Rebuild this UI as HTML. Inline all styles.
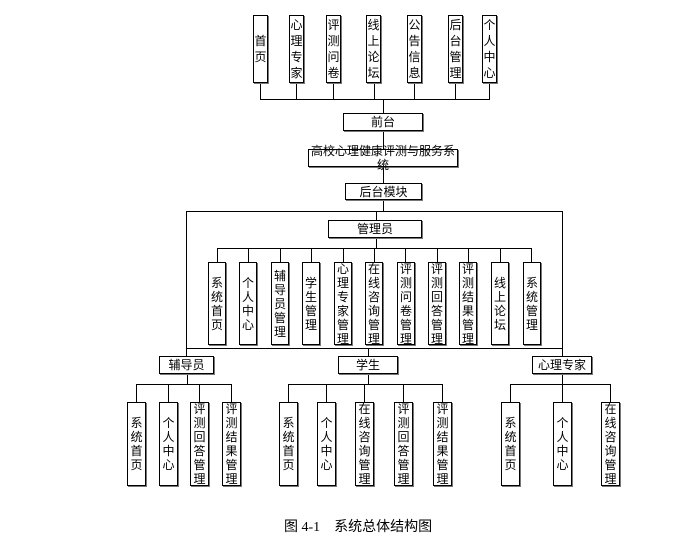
<!DOCTYPE html>
<html><head><meta charset="utf-8"><style>
body{margin:0;background:#fff;}
#c{position:relative;width:697px;height:549px;overflow:hidden;font-family:"Liberation Sans","Noto Sans CJK SC","WenQuanYi Zen Hei",sans-serif;color:#000;}
.b{position:absolute;box-sizing:border-box;border:1px solid #000;box-shadow:1px 1px 0 #777;background:#fff;display:flex;align-items:center;justify-content:center;text-align:center;font-size:12px;line-height:14px;}
.v{line-height:14px;}
.t{line-height:16px;}
.h{position:absolute;height:0;border-top:1px solid #000;}
.l{position:absolute;width:0;border-left:1px solid #000;}
</style></head><body><div id="c">
<!-- top lines -->
<div class="l" style="left:260px;top:83px;height:16px"></div>
<div class="l" style="left:296px;top:83px;height:16px"></div>
<div class="l" style="left:333px;top:83px;height:16px"></div>
<div class="l" style="left:374px;top:83px;height:16px"></div>
<div class="l" style="left:414px;top:83px;height:16px"></div>
<div class="l" style="left:455px;top:83px;height:16px"></div>
<div class="l" style="left:489px;top:83px;height:16px"></div>
<div class="h" style="left:260px;top:99px;width:230px"></div>
<div class="l" style="left:383px;top:99px;height:84px"></div>
<div class="l" style="left:383px;top:199px;height:12px"></div>
<div class="h" style="left:186px;top:211px;width:377px"></div>
<div class="l" style="left:186px;top:211px;height:145px"></div>
<div class="l" style="left:562px;top:211px;height:145px"></div>
<div class="l" style="left:376px;top:211px;height:10px"></div>
<div class="l" style="left:376px;top:237px;height:11px"></div>
<div class="h" style="left:217px;top:248px;width:315px"></div>
<div class="l" style="left:217px;top:248px;height:14px"></div>
<div class="l" style="left:248px;top:248px;height:14px"></div>
<div class="l" style="left:280px;top:248px;height:14px"></div>
<div class="l" style="left:311px;top:248px;height:14px"></div>
<div class="l" style="left:343px;top:248px;height:14px"></div>
<div class="l" style="left:374px;top:248px;height:14px"></div>
<div class="l" style="left:405px;top:248px;height:14px"></div>
<div class="l" style="left:437px;top:248px;height:14px"></div>
<div class="l" style="left:468px;top:248px;height:14px"></div>
<div class="l" style="left:500px;top:248px;height:14px"></div>
<div class="l" style="left:531px;top:248px;height:14px"></div>
<div class="h" style="left:186px;top:348px;width:377px"></div>
<div class="l" style="left:368px;top:348px;height:8px"></div>
<!-- group lines -->
<div class="l" style="left:187px;top:374px;height:10px"></div>
<div class="h" style="left:136px;top:384px;width:96px"></div>
<div class="l" style="left:136px;top:384px;height:18px"></div>
<div class="l" style="left:168px;top:384px;height:18px"></div>
<div class="l" style="left:199px;top:384px;height:18px"></div>
<div class="l" style="left:231px;top:384px;height:18px"></div>
<div class="l" style="left:368px;top:374px;height:10px"></div>
<div class="h" style="left:288px;top:384px;width:155px"></div>
<div class="l" style="left:288px;top:384px;height:18px"></div>
<div class="l" style="left:326px;top:384px;height:18px"></div>
<div class="l" style="left:364px;top:384px;height:18px"></div>
<div class="l" style="left:403px;top:384px;height:18px"></div>
<div class="l" style="left:442px;top:384px;height:18px"></div>
<div class="l" style="left:562px;top:374px;height:10px"></div>
<div class="h" style="left:510px;top:384px;width:101px"></div>
<div class="l" style="left:510px;top:384px;height:18px"></div>
<div class="l" style="left:562px;top:384px;height:18px"></div>
<div class="l" style="left:610px;top:384px;height:18px"></div>

<!-- top boxes -->
<div class="b t" style="left:253px;top:15px;width:15px;height:68px">首<br>页</div>
<div class="b t" style="left:289px;top:15px;width:15px;height:68px">心<br>理<br>专<br>家</div>
<div class="b t" style="left:326px;top:15px;width:15px;height:68px">评<br>测<br>问<br>卷</div>
<div class="b t" style="left:366px;top:15px;width:15px;height:68px">线<br>上<br>论<br>坛</div>
<div class="b t" style="left:407px;top:15px;width:15px;height:68px">公<br>告<br>信<br>息</div>
<div class="b t" style="left:448px;top:15px;width:15px;height:68px">后<br>台<br>管<br>理</div>
<div class="b t" style="left:482px;top:15px;width:15px;height:68px">个<br>人<br>中<br>心</div>
<div class="b" style="left:343px;top:113px;width:80px;height:18px">前台</div>
<div class="b" style="left:308px;top:149px;width:150px;height:18px">高校心理健康评测与服务系统</div>
<div class="b" style="left:345px;top:183px;width:77px;height:17px">后台模块</div>
<div class="b" style="left:328px;top:220px;width:94px;height:18px">管理员</div>
<!-- admin leaves -->
<div class="b v" style="left:208px;top:262px;width:18px;height:83px">系<br>统<br>首<br>页</div>
<div class="b v" style="left:239px;top:262px;width:18px;height:83px">个<br>人<br>中<br>心</div>
<div class="b v" style="left:271px;top:262px;width:18px;height:83px">辅<br>导<br>员<br>管<br>理</div>
<div class="b v" style="left:302px;top:262px;width:18px;height:83px">学<br>生<br>管<br>理</div>
<div class="b v" style="left:334px;top:262px;width:18px;height:83px">心<br>理<br>专<br>家<br>管<br>理</div>
<div class="b v" style="left:365px;top:262px;width:18px;height:83px">在<br>线<br>咨<br>询<br>管<br>理</div>
<div class="b v" style="left:397px;top:262px;width:18px;height:83px">评<br>测<br>问<br>卷<br>管<br>理</div>
<div class="b v" style="left:428px;top:262px;width:18px;height:83px">评<br>测<br>回<br>答<br>管<br>理</div>
<div class="b v" style="left:459px;top:262px;width:18px;height:83px">评<br>测<br>结<br>果<br>管<br>理</div>
<div class="b v" style="left:491px;top:262px;width:18px;height:83px">线<br>上<br>论<br>坛</div>
<div class="b v" style="left:523px;top:262px;width:18px;height:83px">系<br>统<br>管<br>理</div>
<!-- roles -->
<div class="b" style="left:159px;top:356px;width:55px;height:18px">辅导员</div>
<div class="b" style="left:338px;top:356px;width:60px;height:18px">学生</div>
<div class="b" style="left:532px;top:356px;width:60px;height:18px">心理专家</div>
<!-- group leaves -->
<div class="b v" style="left:127px;top:402px;width:19px;height:84px">系<br>统<br>首<br>页</div>
<div class="b v" style="left:159px;top:402px;width:19px;height:84px">个<br>人<br>中<br>心</div>
<div class="b v" style="left:190px;top:402px;width:19px;height:84px">评<br>测<br>回<br>答<br>管<br>理</div>
<div class="b v" style="left:222px;top:402px;width:19px;height:84px">评<br>测<br>结<br>果<br>管<br>理</div>
<div class="b v" style="left:279px;top:402px;width:19px;height:84px">系<br>统<br>首<br>页</div>
<div class="b v" style="left:317px;top:402px;width:19px;height:84px">个<br>人<br>中<br>心</div>
<div class="b v" style="left:355px;top:402px;width:19px;height:84px">在<br>线<br>咨<br>询<br>管<br>理</div>
<div class="b v" style="left:394px;top:402px;width:19px;height:84px">评<br>测<br>回<br>答<br>管<br>理</div>
<div class="b v" style="left:433px;top:402px;width:19px;height:84px">评<br>测<br>结<br>果<br>管<br>理</div>
<div class="b v" style="left:501px;top:402px;width:19px;height:84px">系<br>统<br>首<br>页</div>
<div class="b v" style="left:553px;top:402px;width:19px;height:84px">个<br>人<br>中<br>心</div>
<div class="b v" style="left:601px;top:402px;width:19px;height:84px">在<br>线<br>咨<br>询<br>管<br>理</div>
<div style="position:absolute;left:284px;top:516px;font-size:14px;white-space:nowrap;font-family:'Liberation Serif','Noto Sans CJK SC',serif;">图 4-1&nbsp;&nbsp;&nbsp;&nbsp;系统总体结构图</div>
</div></body></html>
